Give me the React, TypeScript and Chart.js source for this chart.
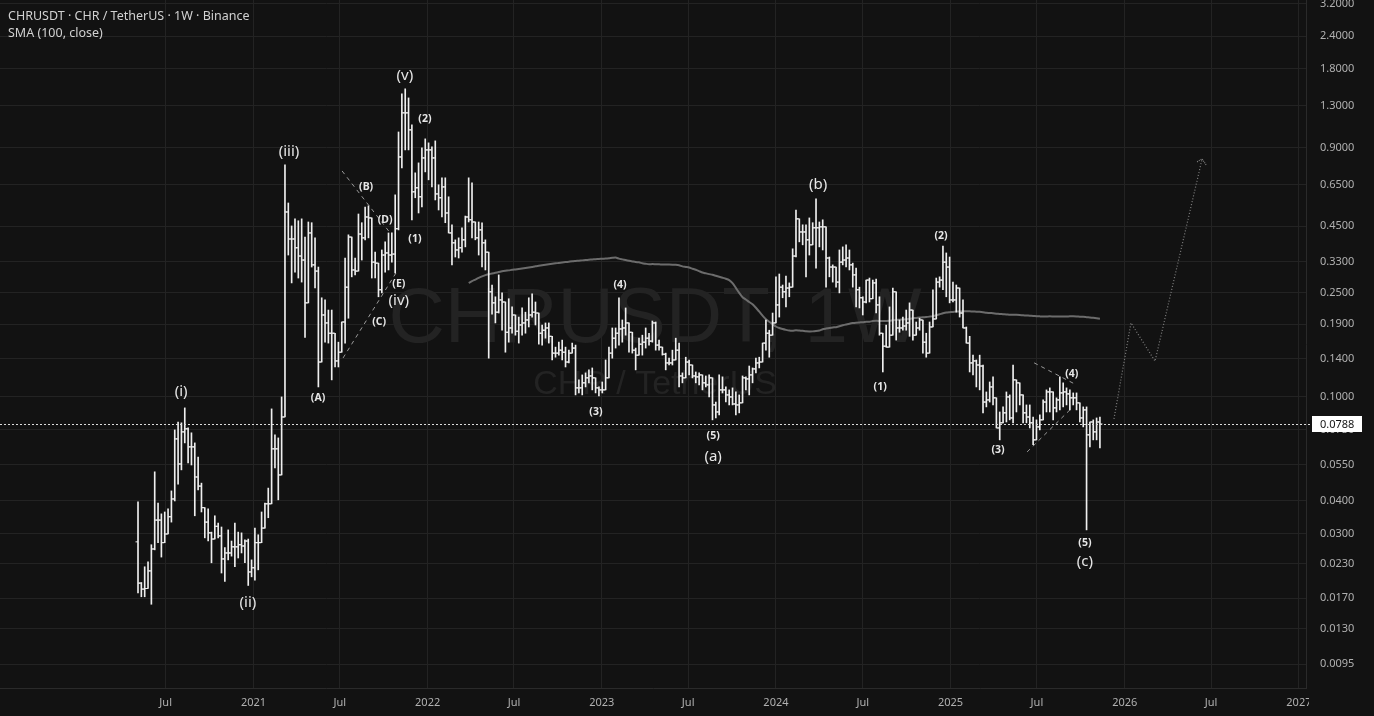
import React, { useEffect, useRef } from "react";
import { Chart, registerables } from "chart.js";

Chart.register(...registerables);

const symbolTitle = "CHRUSDT · CHR / TetherUS · 1W · Binance";
const indicatorTitle = "SMA (100, close)";
const watermarkMain = "CHRUSDT, 1W";
const watermarkSub = "CHR / TetherUS";
const seriesStart = "2020-05-04";
const smaLength = 100;
const firstOpen = 0.0279;

const highs = [
  0.0397, 0.0195, 0.0224, 0.0234, 0.0272, 0.0517, 0.0393, 0.0357, 0.0363, 0.0373,
  0.0437, 0.0748, 0.0802, 0.0796, 0.0908, 0.0761, 0.0729, 0.0667, 0.0589, 0.0468,
  0.0377, 0.0373, 0.0304, 0.0351, 0.0329, 0.0318, 0.0265, 0.031, 0.0281, 0.0329,
  0.0304, 0.0302, 0.0284, 0.0286, 0.0238, 0.0315, 0.0297, 0.0363, 0.0393, 0.0448,
  0.09, 0.0716, 0.0697, 0.1, 0.772, 0.552, 0.451, 0.48, 0.472, 0.48,
  0.409, 0.467, 0.464, 0.406, 0.314, 0.2395, 0.235, 0.215, 0.215, 0.1753,
  0.162, 0.1935, 0.34, 0.417, 0.406, 0.34, 0.501, 0.464, 0.533, 0.538,
  0.467, 0.358, 0.325, 0.365, 0.392, 0.424, 0.424, 0.593, 1.032, 1.443,
  1.509, 1.393, 1.099, 0.72, 0.786, 0.897, 0.971, 0.9375, 0.905, 0.954,
  0.648, 0.689, 0.689, 0.583, 0.4555, 0.399, 0.406, 0.4436, 0.492, 0.689,
  0.659, 0.467, 0.467, 0.464, 0.399, 0.314, 0.268, 0.2416, 0.293, 0.25,
  0.1836, 0.2375, 0.221, 0.1987, 0.2021, 0.219, 0.211, 0.2395, 0.248, 0.2308,
  0.1987, 0.1885, 0.1919, 0.1919, 0.165, 0.1551, 0.162, 0.165, 0.1551, 0.151,
  0.1607, 0.1579, 0.1162, 0.1214, 0.1236, 0.1269, 0.1291, 0.1183, 0.1092, 0.1141,
  0.1385, 0.1551, 0.1836, 0.1836, 0.2395, 0.197, 0.219, 0.1852, 0.1706, 0.1538,
  0.1678, 0.1723, 0.1836, 0.1753, 0.1952, 0.1935, 0.165, 0.1551, 0.1471, 0.1407,
  0.151, 0.1678, 0.1607, 0.1236, 0.1419, 0.1385, 0.1325, 0.1246, 0.1236, 0.1214,
  0.1203, 0.1214, 0.1, 0.0956, 0.1214, 0.1193, 0.1092, 0.1064, 0.1083, 0.1045,
  0.1018, 0.1203, 0.1193, 0.1313, 0.1291, 0.1407, 0.1419, 0.1607, 0.197, 0.18,
  0.2094, 0.288, 0.2953, 0.268, 0.29, 0.273, 0.3687, 0.519, 0.467, 0.4555,
  0.4555, 0.484, 0.464, 0.573, 0.467, 0.476, 0.358, 0.343, 0.32, 0.288,
  0.365, 0.375, 0.3818, 0.365, 0.325, 0.311, 0.263, 0.2416, 0.28, 0.285,
  0.28, 0.2827, 0.2416, 0.1753, 0.1885, 0.221, 0.261, 0.2524, 0.197, 0.2021,
  0.215, 0.229, 0.211, 0.1935, 0.2, 0.197, 0.1753, 0.1935, 0.257, 0.285,
  0.288, 0.378, 0.3555, 0.343, 0.275, 0.268, 0.257, 0.235, 0.1852, 0.1706,
  0.1445, 0.1385, 0.1445, 0.1325, 0.1045, 0.1141, 0.1193, 0.0974, 0.0876, 0.0916,
  0.1045, 0.1018, 0.1325, 0.1141, 0.1132, 0.0916, 0.0932, 0.0932, 0.0838, 0.0817,
  0.0854, 0.0974, 0.1064, 0.1083, 0.1036, 0.0992, 0.1193, 0.1132, 0.1083, 0.1064,
  0.1036, 0.1036, 0.0949, 0.0916, 0.0916, 0.0802, 0.0817, 0.0831, 0.0838
];

const lows = [
  0.0178, 0.0172, 0.0172, 0.0185, 0.0161, 0.026, 0.0277, 0.0244, 0.0277, 0.0302,
  0.0332, 0.04, 0.0464, 0.0526, 0.0667, 0.0559, 0.0549, 0.0351, 0.0441, 0.0363,
  0.0289, 0.0281, 0.0232, 0.0286, 0.0289, 0.0212, 0.0197, 0.0238, 0.0246, 0.0224,
  0.0242, 0.0253, 0.0232, 0.019, 0.0205, 0.0199, 0.0218, 0.0289, 0.0342, 0.0345,
  0.0441, 0.0535, 0.0404, 0.0512, 0.0838, 0.349, 0.273, 0.3, 0.285, 0.275,
  0.169, 0.32, 0.314, 0.261, 0.1092, 0.1706, 0.162, 0.1607, 0.1162, 0.1302,
  0.1302, 0.1483, 0.1607, 0.2, 0.288, 0.293, 0.349, 0.334, 0.399, 0.406,
  0.285, 0.285, 0.2416, 0.25, 0.3, 0.306, 0.328, 0.298, 0.4355, 0.752,
  0.881, 0.881, 0.476, 0.578, 0.5055, 0.533, 0.726, 0.677, 0.636, 0.567,
  0.519, 0.488, 0.464, 0.424, 0.32, 0.343, 0.34, 0.358, 0.375, 0.467,
  0.406, 0.399, 0.349, 0.314, 0.306, 0.1407, 0.2075, 0.1919, 0.2094, 0.18,
  0.1483, 0.162, 0.1753, 0.1723, 0.1607, 0.1723, 0.1753, 0.1852, 0.2021, 0.1885,
  0.1592, 0.1579, 0.1678, 0.1607, 0.1385, 0.1419, 0.1445, 0.1385, 0.1302, 0.1349,
  0.1471, 0.1018, 0.1036, 0.1018, 0.1092, 0.1132, 0.1064, 0.1036, 0.1009, 0.1036,
  0.1083, 0.1349, 0.1407, 0.1538, 0.1579, 0.162, 0.1723, 0.1483, 0.1471, 0.1269,
  0.1471, 0.1445, 0.1538, 0.1579, 0.162, 0.151, 0.151, 0.1445, 0.1269, 0.1325,
  0.1325, 0.1407, 0.1092, 0.1132, 0.1183, 0.1214, 0.1183, 0.1132, 0.1112, 0.1064,
  0.1092, 0.1, 0.0817, 0.0831, 0.0854, 0.1036, 0.0956, 0.0932, 0.0932, 0.0854,
  0.0869, 0.0974, 0.1064, 0.1018, 0.1132, 0.1236, 0.1291, 0.1385, 0.151, 0.1419,
  0.1852, 0.2, 0.2021, 0.2395, 0.221, 0.2416, 0.273, 0.343, 0.392, 0.3818,
  0.288, 0.349, 0.406, 0.311, 0.375, 0.365, 0.263, 0.288, 0.275, 0.263,
  0.25, 0.32, 0.314, 0.306, 0.263, 0.221, 0.219, 0.2058, 0.229, 0.2308,
  0.2375, 0.2094, 0.1723, 0.1246, 0.1551, 0.165, 0.1919, 0.165, 0.1768, 0.18,
  0.18, 0.1706, 0.165, 0.1723, 0.18, 0.1471, 0.1419, 0.1753, 0.197, 0.229,
  0.263, 0.257, 0.2416, 0.229, 0.2308, 0.211, 0.2021, 0.1836, 0.1607, 0.1246,
  0.1214, 0.1092, 0.1064, 0.0869, 0.0916, 0.0956, 0.0932, 0.0761, 0.0685, 0.0796,
  0.0802, 0.0817, 0.0796, 0.0876, 0.0932, 0.0796, 0.0796, 0.0761, 0.0656, 0.0703,
  0.0748, 0.0817, 0.0876, 0.0876, 0.0817, 0.0876, 0.0892, 0.0916, 0.0932, 0.0892,
  0.0932, 0.0892, 0.0802, 0.0768, 0.031, 0.0644, 0.0685, 0.0685, 0.0638
];

const closes = [
  0.0194, 0.0184, 0.0185, 0.0216, 0.0262, 0.0338, 0.0338, 0.0277, 0.0299, 0.0348,
  0.0407, 0.0691, 0.0554, 0.0735, 0.0755, 0.0644, 0.0644, 0.0494, 0.0456, 0.0377,
  0.0332, 0.0302, 0.0286, 0.032, 0.0294, 0.024, 0.0253, 0.0253, 0.0267, 0.0267,
  0.0272, 0.0269, 0.0281, 0.0214, 0.0222, 0.0277, 0.0277, 0.0315, 0.039, 0.039,
  0.0633, 0.0633, 0.0503, 0.0838, 0.51, 0.402, 0.402, 0.372, 0.346, 0.334,
  0.229, 0.424, 0.32, 0.303, 0.136, 0.2058, 0.1919, 0.1753, 0.1753, 0.1373,
  0.1483, 0.1935, 0.263, 0.409, 0.306, 0.303, 0.42, 0.406, 0.488, 0.484,
  0.328, 0.325, 0.257, 0.349, 0.3555, 0.349, 0.352, 0.44, 0.828, 1.221,
  1.221, 1.051, 0.609, 0.631, 0.583, 0.821, 0.881, 0.881, 0.821, 0.598,
  0.578, 0.636, 0.5055, 0.424, 0.3886, 0.365, 0.372, 0.399, 0.488, 0.476,
  0.467, 0.406, 0.4355, 0.3886, 0.358, 0.2524, 0.229, 0.211, 0.235, 0.2308,
  0.1768, 0.1836, 0.2058, 0.1784, 0.1885, 0.1919, 0.197, 0.2058, 0.211, 0.2094,
  0.1753, 0.18, 0.1836, 0.1706, 0.1471, 0.1471, 0.151, 0.1483, 0.136, 0.1471,
  0.1538, 0.1083, 0.1083, 0.1132, 0.1183, 0.1203, 0.1183, 0.1083, 0.1064, 0.1064,
  0.1183, 0.1471, 0.1678, 0.1753, 0.182, 0.1836, 0.1919, 0.1768, 0.151, 0.1445,
  0.1592, 0.162, 0.1678, 0.1635, 0.1919, 0.1579, 0.1551, 0.1457, 0.1349, 0.1349,
  0.1385, 0.151, 0.1203, 0.1183, 0.136, 0.1325, 0.1203, 0.1193, 0.1214, 0.1132,
  0.1112, 0.1183, 0.0932, 0.0876, 0.1064, 0.1064, 0.1018, 0.1, 0.094, 0.0932,
  0.0949, 0.1183, 0.1172, 0.1214, 0.128, 0.1349, 0.136, 0.1607, 0.1753, 0.1723,
  0.1919, 0.2249, 0.263, 0.2524, 0.261, 0.263, 0.346, 0.48, 0.4277, 0.4277,
  0.399, 0.3818, 0.4436, 0.4436, 0.4474, 0.4474, 0.34, 0.314, 0.314, 0.275,
  0.328, 0.334, 0.34, 0.32, 0.293, 0.257, 0.2395, 0.2308, 0.28, 0.2375,
  0.273, 0.2249, 0.1753, 0.1564, 0.1551, 0.1723, 0.2524, 0.1836, 0.1836, 0.1868,
  0.1919, 0.215, 0.1723, 0.1836, 0.197, 0.162, 0.1471, 0.1852, 0.1987, 0.275,
  0.28, 0.328, 0.314, 0.235, 0.235, 0.261, 0.2094, 0.1836, 0.1607, 0.1349,
  0.1373, 0.1325, 0.1313, 0.0956, 0.0974, 0.1092, 0.0992, 0.0761, 0.0796, 0.0869,
  0.1, 0.0831, 0.1162, 0.1132, 0.1018, 0.0869, 0.0838, 0.0796, 0.0685, 0.0768,
  0.0817, 0.0956, 0.1045, 0.1045, 0.0908, 0.0974, 0.1036, 0.1045, 0.1027, 0.0992,
  0.0992, 0.0949, 0.0831, 0.0892, 0.0716, 0.0802, 0.0735, 0.0802, 0.0788
];

const yTickValues = [3.2, 2.4, 1.8, 1.3, 0.9, 0.65, 0.45, 0.33, 0.25, 0.19, 0.14, 0.1, 0.075, 0.055, 0.04, 0.03, 0.023, 0.017, 0.013, 0.0095];

const xTickDates = [
  "2020-07-01", "2021-01-01", "2021-07-01", "2022-01-01", "2022-07-01", "2023-01-01", "2023-07-01",
  "2024-01-01", "2024-07-01", "2025-01-01", "2025-07-01", "2026-01-01", "2026-07-01", "2027-01-01"
];
const xTickLabels = ["Jul", "2021", "Jul", "2022", "Jul", "2023", "Jul", "2024", "Jul", "2025", "Jul", "2026", "Jul", "2027"];

// Elliott wave labels: text, week index, price
const majorWaveLabels = ["(i)", "(ii)", "(iii)", "(iv)", "(v)", "(a)", "(b)", "(c)"];
const majorWaveWeeks = [12.9, 32.9, 45.2, 78.1, 79.9, 172.2, 203.6, 283.5];
const majorWavePrices = [0.105, 0.0163, 0.866, 0.233, 1.69, 0.0589, 0.647, 0.0234];

const minorWaveLabels = ["(A)", "(B)", "(C)", "(D)", "(E)", "(1)", "(2)", "(3)", "(4)", "(5)", "(1)", "(2)", "(3)", "(4)", "(5)"];
const minorWaveWeeks = [53.9, 68.3, 72.2, 74.0, 78.1, 82.9, 85.9, 137.1, 144.3, 172.2, 222.2, 240.4, 257.5, 279.6, 283.5];
const minorWavePrices = [0.0991, 0.636, 0.194, 0.476, 0.271, 0.402, 1.158, 0.0876, 0.268, 0.0709, 0.109, 0.413, 0.0627, 0.1225, 0.0276];

// Trend lines (week, price)
const triangle2021UpperWeeks = [61.1, 75.5];
const triangle2021UpperPrices = [0.732, 0.424];
const triangle2021LowerWeeks = [61.4, 77.8];
const triangle2021LowerPrices = [0.141, 0.306];
const triangle2025UpperWeeks = [268.3, 280.5];
const triangle2025UpperPrices = [0.135, 0.112];
const triangle2025LowerWeeks = [266.2, 279.0];
const triangle2025LowerPrices = [0.0616, 0.0892];
const projectionWeeks = [292.2, 297.3, 304.5, 318.6];
const projectionPrices = [0.0824, 0.192, 0.137, 0.814];
const arrowWeeks = [317.1, 318.6, 319.8];
const arrowPrices = [0.793, 0.814, 0.772];

const BG = "#121212";
const BAR = "#efefef";
const GRID = "#232323";
const AXIS_TEXT = "#b0b0b0";

function weekIndex(date: string) {
  return (Date.parse(date) - Date.parse(seriesStart)) / (7 * 86400000);
}

function pts(ws: number[], ps: number[]) {
  return ws.map((w, i) => ({ x: w, y: ps[i] }));
}

const overlayPlugin = {
  id: "overlay",
  beforeDatasetsDraw(chart: any) {
    const { ctx, chartArea: a } = chart;
    const cx = (a.left + a.right) / 2;
    const cy = (a.top + a.bottom) / 2;
    ctx.save();
    ctx.beginPath();
    ctx.rect(a.left, a.top, a.right - a.left, a.bottom - a.top);
    ctx.clip();
    ctx.fillStyle = "#232323";
    ctx.textAlign = "center";
    ctx.textBaseline = "middle";
    ctx.font = '78px "Liberation Sans", sans-serif';
    ctx.fillText(watermarkMain, cx + 2, cy - 24);
    ctx.font = '34px "Liberation Sans", sans-serif';
    ctx.fillText(watermarkSub, cx + 2, cy + 41);
    ctx.restore();
  },
  afterDatasetsDraw(chart: any) {
    const { ctx, chartArea: a, scales } = chart;
    const x = scales.x;
    const y = scales.y;
    ctx.save();
    ctx.textAlign = "center";
    ctx.textBaseline = "middle";
    ctx.fillStyle = "#e6e6e6";
    ctx.font = '15px "Noto Sans", sans-serif';
    majorWaveLabels.forEach((t, k) => {
      ctx.fillText(t, x.getPixelForValue(majorWaveWeeks[k]), y.getPixelForValue(majorWavePrices[k]));
    });
    ctx.font = 'bold 10.5px "Noto Sans", sans-serif';
    minorWaveLabels.forEach((t, k) => {
      ctx.fillText(t, x.getPixelForValue(minorWaveWeeks[k]), y.getPixelForValue(minorWavePrices[k]));
    });
    const last = closes[closes.length - 1];
    const py = Math.round(y.getPixelForValue(last)) + 0.5;
    ctx.strokeStyle = "#dcdcdc";
    ctx.lineWidth = 1;
    ctx.setLineDash([2, 2]);
    ctx.beginPath();
    ctx.moveTo(a.left, py);
    ctx.lineTo(a.right + 6, py);
    ctx.stroke();
    ctx.restore();
  },
  afterDraw(chart: any) {
    const { ctx, chartArea: a, scales, width, height } = chart;
    const y = scales.y;
    ctx.save();
    ctx.fillStyle = BG;
    ctx.fillRect(a.right + 3, a.bottom + 1, width - a.right, height - a.bottom);
    const last = closes[closes.length - 1];
    const py = Math.round(y.getPixelForValue(last));
    ctx.fillStyle = "#ffffff";
    ctx.fillRect(a.right + 6, py - 8, 50, 16);
    ctx.fillStyle = "#131313";
    ctx.font = '11px "Noto Sans", sans-serif';
    ctx.textAlign = "left";
    ctx.textBaseline = "middle";
    ctx.fillText(last.toFixed(4), a.right + 14, py + 0.5);
    ctx.fillStyle = "#d1d1d1";
    ctx.font = '12.5px "Noto Sans", sans-serif';
    ctx.fillText(symbolTitle, 8, 16);
    ctx.fillText(indicatorTitle, 8, 33);
    ctx.restore();
  }
};

export default function App() {
  const ref = useRef<HTMLCanvasElement>(null);
  useEffect(() => {
    document.body.style.margin = "0";
    const idx = closes.map((_, i) => i);
    const opens = closes.map((_, i) => (i === 0 ? firstOpen : closes[i - 1]));
    const sma: { x: number; y: number }[] = [];
    for (let i = smaLength - 1; i < closes.length; i++) {
      let s = 0;
      for (let j = i - smaLength + 1; j <= i; j++) s += closes[j];
      sma.push({ x: i, y: s / smaLength });
    }
    const xTicks = xTickDates.map(weekIndex);
    const lineDs = (data: any[], color: string, dash: number[], width = 1) => ({
      type: "line",
      data,
      borderColor: color,
      borderWidth: width,
      borderDash: dash,
      pointRadius: 0,
      tension: 0,
      fill: false,
      order: 3
    });
    const chart = new Chart(ref.current as HTMLCanvasElement, {
      type: "scatter",
      data: {
        datasets: [
          { type: "line", data: sma, borderColor: "#6c6c6c", borderWidth: 2, pointRadius: 0, tension: 0.2, fill: false, order: 5 } as any,
          lineDs(pts(triangle2021UpperWeeks, triangle2021UpperPrices), "#9a9a9a", [4, 4]),
          lineDs(pts(triangle2021LowerWeeks, triangle2021LowerPrices), "#9a9a9a", [4, 4]),
          lineDs(pts(triangle2025UpperWeeks, triangle2025UpperPrices), "#9a9a9a", [4, 4]),
          lineDs(pts(triangle2025LowerWeeks, triangle2025LowerPrices), "#9a9a9a", [4, 4]),
          lineDs(pts(projectionWeeks, projectionPrices), "#808080", [1, 2], 1.2),
          lineDs(pts(arrowWeeks, arrowPrices), "#808080", [1, 1], 1.2),
          {
            type: "bar",
            data: idx.map((i) => ({
              x: i,
              y: [Math.min(lows[i], opens[i], closes[i]), Math.max(highs[i], opens[i], closes[i])]
            })),
            backgroundColor: BAR,
            borderWidth: 0,
            barThickness: 1,
            grouped: false,
            order: 1
          } as any,
          {
            type: "scatter",
            data: idx.map((i) => ({ x: i, y: opens[i] })),
            pointStyle: "dash",
            pointRotation: 180,
            pointRadius: 2.5,
            pointBorderColor: BAR,
            pointBackgroundColor: BAR,
            pointBorderWidth: 1,
            order: 0
          } as any,
          {
            type: "scatter",
            data: idx.map((i) => ({ x: i, y: closes[i] })),
            pointStyle: "dash",
            pointRotation: 0,
            pointRadius: 2.5,
            pointBorderColor: BAR,
            pointBackgroundColor: BAR,
            pointBorderWidth: 1,
            order: 0
          } as any
        ]
      },
      options: {
        animation: false,
        responsive: true,
        maintainAspectRatio: false,
        events: [],
        layout: { padding: 0, autoPadding: false },
        plugins: { legend: { display: false }, tooltip: { enabled: false } },
        scales: {
          x: {
            type: "linear",
            position: "bottom",
            min: -41.32,
            max: 349.7,
            offset: false,
            grid: { color: GRID, drawTicks: false, offset: false },
            border: { display: true, color: "#2a2a2a" },
            ticks: {
              autoSkip: false,
              maxRotation: 0,
              padding: 8,
              color: AXIS_TEXT,
              font: { family: '"Noto Sans", sans-serif', size: 11 },
              callback: (_v: any, i: number) => xTickLabels[i]
            },
            afterBuildTicks: (s: any) => {
              s.ticks = xTicks.map((v) => ({ value: v }));
            },
            afterFit: (s: any) => {
              s.height = 28;
              s.paddingLeft = 0;
              s.paddingRight = 0;
            }
          },
          y: {
            type: "logarithmic",
            position: "right",
            min: 0.0077,
            max: 3.3,
            grid: { color: GRID, drawTicks: false },
            border: { display: true, color: "#2a2a2a" },
            ticks: {
              padding: 14,
              color: AXIS_TEXT,
              font: { family: '"Noto Sans", sans-serif', size: 11 },
              callback: (v: any) => Number(v).toFixed(4)
            },
            afterBuildTicks: (s: any) => {
              s.ticks = yTickValues.map((v) => ({ value: v }));
            },
            afterFit: (s: any) => {
              s.width = 68;
              s.paddingTop = 0;
              s.paddingBottom = 0;
            }
          }
        }
      } as any,
      plugins: [overlayPlugin]
    });
    return () => chart.destroy();
  }, []);
  return (
    <div style={{ position: "fixed", left: 0, top: 0, width: 1374, height: 716, background: BG }}>
      <canvas ref={ref} />
    </div>
  );
}
